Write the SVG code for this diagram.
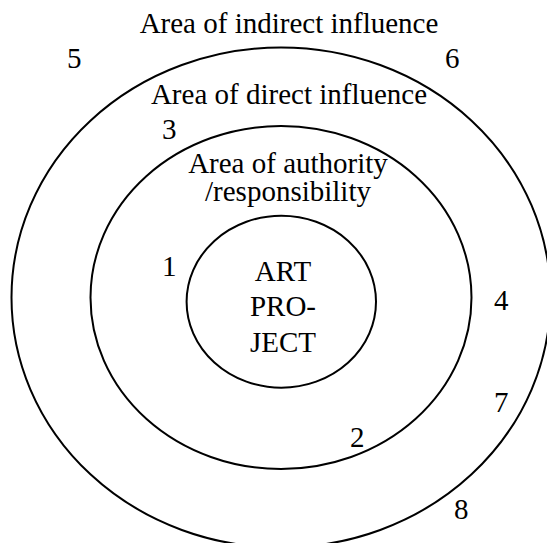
<svg xmlns="http://www.w3.org/2000/svg" width="547" height="543" viewBox="0 0 547 543">
<style>
.ring{fill:none;stroke:#000;stroke-width:2}
text{font-family:'Liberation Serif','Times New Roman',Times,serif;font-size:29px;fill:#000}
.c{text-anchor:middle}
</style>
<rect width="547" height="543" fill="#fff"/>
<g id="outer">
<ellipse class="ring" cx="281" cy="297.5" rx="269.5" ry="250"/>
<text class="c" x="289" y="33">Area of indirect influence</text>
<text x="67" y="68">5</text>
<text x="445" y="68">6</text>
<text x="494" y="412">7</text>
<text x="454" y="519">8</text>
</g>
<g id="middle">
<ellipse class="ring" cx="281" cy="297.5" rx="190.5" ry="171.5"/>
<text class="c" x="289" y="104">Area of direct influence</text>
<text x="162" y="139">3</text>
<text x="494" y="310">4</text>
</g>
<g id="authority">
<text class="c" x="288" y="173">Area of authority</text>
<text class="c" x="288" y="201">/responsibility</text>
<text x="162" y="276">1</text>
<text x="350" y="447">2</text>
</g>
<g id="project">
<ellipse class="ring" cx="281.3" cy="301.7" rx="94.7" ry="86"/>
<text class="c" x="283" y="281">ART</text>
<text class="c" x="283" y="316">PRO-</text>
<text class="c" x="283" y="352">JECT</text>
</g>
<g id="connectors"></g>
</svg>
